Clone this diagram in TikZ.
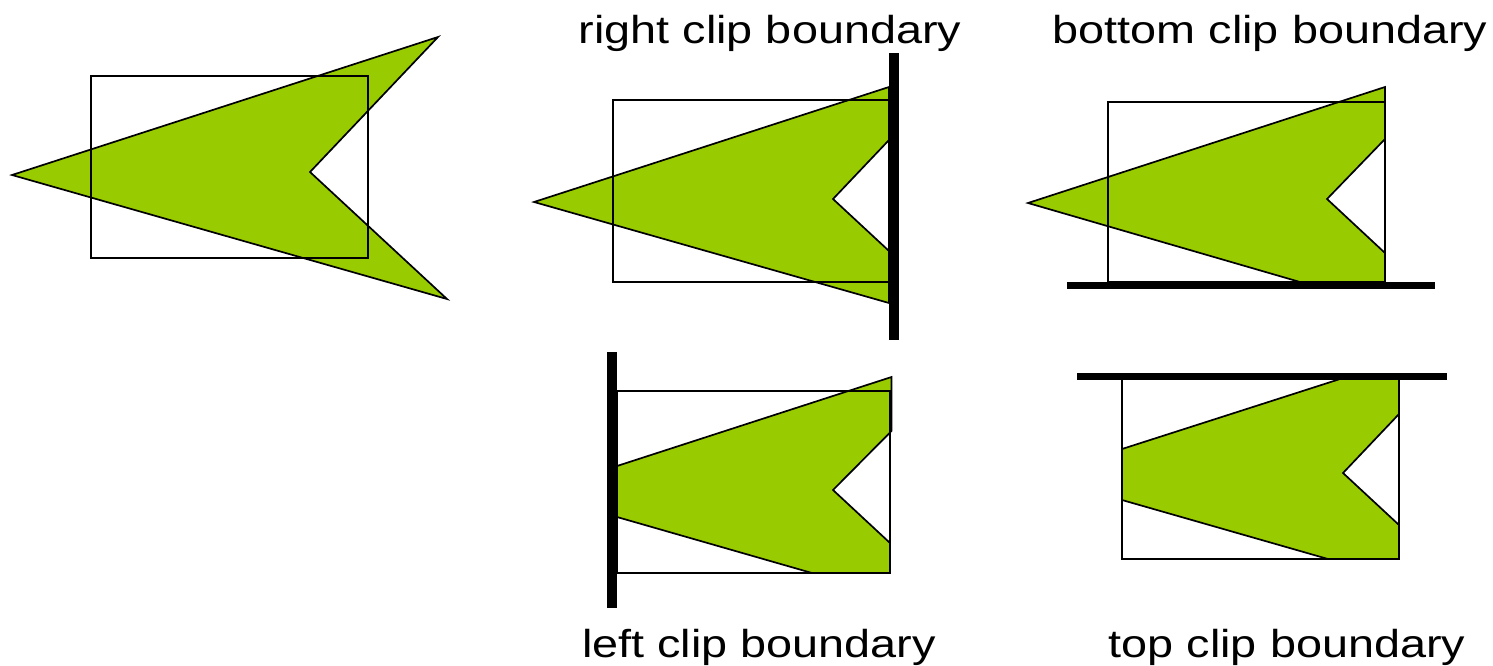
\documentclass[tikz,border=0pt]{standalone}
\usepackage{fontspec}
\setmainfont{Liberation Sans}
\definecolor{arrowgreen}{RGB}{153,204,0}
\begin{document}
\begin{tikzpicture}[x=1pt,y=-1pt,
  shapefill/.style={fill=arrowgreen, draw=black, line width=1.7pt, line join=miter},
  cliprect/.style={draw=black, line width=2pt},
  clipv/.style={draw=black, line width=10pt},
  cliph/.style={draw=black, line width=7pt},
  lbl/.style={font=\fontsize{39}{39}\selectfont, anchor=base, inner sep=0pt}]
\useasboundingbox (0,0) rectangle (1493,665);

% panel 1: original polygon and clip window
\draw[shapefill] (12,175) -- (438,37) -- (310,172) -- (447,299) -- cycle;
\draw[cliprect] (91,76) rectangle (368,258);

% panel 2: right clip boundary
\draw[shapefill] (534,202) -- (889,87) -- (889,140) -- (833,199) -- (889,251) -- (889,303) -- cycle;
\draw[cliprect] (613,100) rectangle (889,282);
\coordinate (r1) at (894,53);
\coordinate (r2) at (894,340);
\draw[clipv] (r1) -- (r2);

% panel 3: bottom clip boundary
\draw[shapefill] (1028,203) -- (1385,87) -- (1385,139) -- (1327,199) -- (1385,253) -- (1385,282) -- (1300,282) -- cycle;
\draw[cliprect] (1108,102) rectangle (1385,282);
\coordinate (b1) at (1067,285.5);
\coordinate (b2) at (1435,285.5);
\draw[cliph] (b1) -- (b2);

% panel 4: left clip boundary
\draw[shapefill] (617,466) -- (891.5,377) -- (891.5,431) -- (833,490) -- (890,543) -- (890,573) -- (812,573) -- (617,517) -- cycle;
\draw[cliprect] (617,391) rectangle (890,573);
\coordinate (l1) at (612,352);
\coordinate (l2) at (612,608);
\draw[clipv] (l1) -- (l2);

% panel 5: top clip boundary
\draw[shapefill] (1122,449) -- (1340,379) -- (1399,379) -- (1399,414) -- (1343,473) -- (1399,525) -- (1399,559) -- (1328,559) -- (1122,500) -- cycle;
\draw[cliprect] (1122,379) rectangle (1399,559);
\coordinate (t1) at (1077,376.5);
\coordinate (t2) at (1447,376.5);
\draw[cliph] (t1) -- (t2);

% labels
\node[lbl] (lblright) at (770,43) {\scalebox{1.2}[1]{right clip boundary}};
\node[lbl] (lblbottom) at (1270,43) {\scalebox{1.2}[1]{bottom clip boundary}};
\node[lbl] (lblleft) at (759,657) {\scalebox{1.2}[1]{left clip boundary}};
\node[lbl] (lbltop) at (1287,657) {\scalebox{1.2}[1]{top clip boundary}};
\end{tikzpicture}
\end{document}
